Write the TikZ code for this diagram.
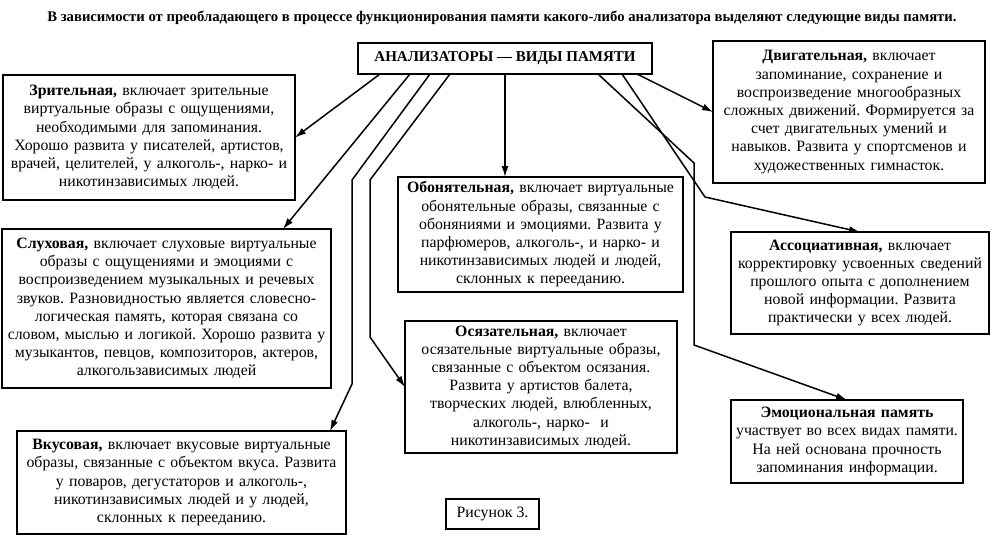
\documentclass[tikz,border=0pt]{standalone}
\usepackage{fontspec}
\setmainfont{Liberation Serif}
\usetikzlibrary{arrows.meta}
\frenchspacing
\begin{document}
\begin{tikzpicture}[>={Latex[length=11pt,width=7pt]}, x=1pt, y=-1pt,
  box/.style={draw, line width=1.6pt, anchor=north west, outer sep=0pt, align=center, inner sep=3pt, font=\fontsize{15.8}{18.2}\selectfont},
  link/.style={->, line width=1.5pt}]
\useasboundingbox (0,0) rectangle (1000,536);
\node[font=\bfseries\fontsize{14.7}{16}\selectfont] (title) at (502,18) {В зависимости от преобладающего в процессе функционирования памяти какого-либо анализатора выделяют следующие виды памяти.};
\node[box, minimum width=294pt, minimum height=31pt, font=\bfseries\fontsize{15}{18}\selectfont] (centre) at (358,43) {АНАЛИЗАТОРЫ — ВИДЫ ПАМЯТИ};
\node[box, minimum width=292pt, minimum height=125pt, text width=284pt] (vis) at (3,75)
  {\textbf{Зрительная,} включает зрительные\\ виртуальные образы с ощущениями,\\ необходимыми для запоминания.\\ Хорошо развита у писателей, артистов,\\ врачей, целителей, у алкоголь-, нарко- и\\ никотинзависимых людей.};
\node[box, minimum width=272pt, minimum height=142pt, text width=264pt] (mot) at (713,41)
  {\textbf{Двигательная,} включает\\ запоминание, сохранение и\\ воспроизведение многообразных\\ сложных движений. Формируется за\\ счет двигательных умений и\\ навыков. Развита у спортсменов и\\ художественных гимнасток.};
\node[box, minimum width=285pt, minimum height=115pt, text width=277pt] (olf) at (398,177)
  {\textbf{Обонятельная,} включает виртуальные\\ обонятельные образы, связанные с\\ обоняниями и эмоциями. Развита у\\ парфюмеров, алкоголь-, и нарко- и\\ никотинзависимых людей и людей,\\ склонных к перееданию.};
\node[box, minimum width=329pt, minimum height=159pt, text width=321pt] (aud) at (2,229)
  {\textbf{Слуховая,} включает слуховые виртуальные\\ образы с ощущениями и эмоциями с\\ воспроизведением музыкальных и речевых\\ звуков. Разновидностью является словесно-\\ логическая память, которая связана со\\ словом, мыслью и логикой. Хорошо развита у\\ музыкантов, певцов, композиторов, актеров,\\ алкогользависимых людей};
\node[box, minimum width=258pt, minimum height=102pt, text width=250pt] (assoc) at (731,232)
  {\textbf{Ассоциативная,} включает\\ корректировку усвоенных сведений\\ прошлого опыта с дополнением\\ новой информации. Развита\\ практически у всех людей.};
\node[box, minimum width=272pt, minimum height=132pt, text width=264pt] (touch) at (405,321)
  {\textbf{Осязательная,} включает\\ осязательные виртуальные образы,\\ связанные с объектом осязания.\\ Развита у артистов балета,\\ творческих людей, влюбленных,\\ алкоголь-, нарко-\ \ и\\ никотинзависимых людей.};
\node[box, minimum width=232pt, minimum height=83pt, text width=224pt] (emo) at (731,400)
  {\textbf{Эмоциональная память}\\ участвует во всех видах памяти.\\ На ней основана прочность\\ запоминания информации.};
\node[box, minimum width=329pt, minimum height=103pt, text width=321pt] (taste) at (17,431)
  {\textbf{Вкусовая,} включает вкусовые виртуальные\\ образы, связанные с объектом вкуса. Развита\\ у поваров, дегустаторов и алкоголь-,\\ никотинзависимых людей и у людей,\\ склонных к перееданию.};
\node[box, minimum width=93pt, minimum height=30pt] (fig) at (446,499) {Рисунок 3.};

\draw[link] ([xshift=22pt]centre.south west) -- (vis.east);
\draw[link] ([xshift=52pt]centre.south west) -- ([xshift=-48pt]aud.north east);
\draw[link] ([xshift=72pt]centre.south west) -- (352,180) -- (352,384) -- ([xshift=-16pt]taste.north east);
\draw[link] ([xshift=92pt]centre.south west) -- (370,180) -- (370,337) -- (touch.west);
\draw[link] ([xshift=147pt]centre.south west) -- ([xshift=107pt]olf.north west);
\draw[link] ([xshift=-15pt]centre.south east) -- (mot.west);
\draw[link] ([xshift=-30pt]centre.south east) -- (705,197) -- (assoc.north);
\draw[link] ([xshift=-54pt]centre.south east) -- (694,163) -- (694,345) -- (emo.north);
\end{tikzpicture}
\end{document}
